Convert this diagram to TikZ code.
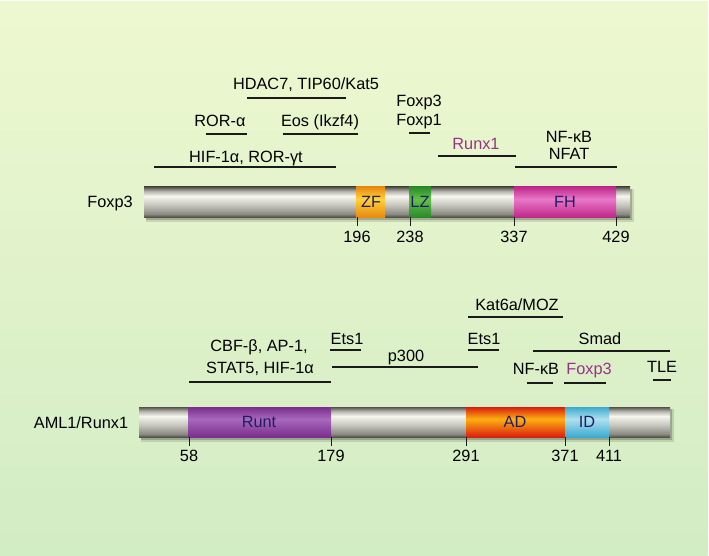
\documentclass[tikz,border=0pt]{standalone}
\usepackage{fontspec}
\setmainfont{Liberation Sans}
\definecolor{bgtop}{HTML}{EEF8D0}
\definecolor{bgbot}{HTML}{D2ECC4}
\definecolor{gbd}{HTML}{52524B}
\definecolor{gbm}{HTML}{8A8A82}
\definecolor{gbl}{HTML}{C6C6BE}
\definecolor{gbw}{HTML}{F6F6F0}
\definecolor{gbt}{HTML}{B4B4AC}
\definecolor{zfE}{HTML}{E88A10}
\definecolor{zfM}{HTML}{FFD23A}
\definecolor{lzE}{HTML}{2A8A2A}
\definecolor{lzM}{HTML}{62C048}
\definecolor{fhE}{HTML}{C0288A}
\definecolor{fhM}{HTML}{E878C8}
\definecolor{ruE}{HTML}{7A2E8E}
\definecolor{ruM}{HTML}{A868BC}
\definecolor{adE}{HTML}{D81E10}
\definecolor{adM}{HTML}{FFB010}
\definecolor{idE}{HTML}{3AAAD0}
\definecolor{idM}{HTML}{B0E0EE}
\definecolor{dtxt}{HTML}{1E1E66}
\definecolor{purp}{HTML}{993388}
\definecolor{lnc}{HTML}{1A1A1A}
\pgfdeclareverticalshading{graybar}{100bp}{color(0bp)=(gbd); color(25bp)=(gbd); color(30bp)=(gbm); color(45bp)=(gbl); color(60bp)=(gbw); color(68bp)=(gbt); color(75bp)=(gbd); color(100bp)=(gbd)}
\pgfdeclareverticalshading{zfsh}{100bp}{color(0bp)=(zfE); color(25bp)=(zfE); color(55bp)=(zfM); color(75bp)=(zfE); color(100bp)=(zfE)}
\pgfdeclareverticalshading{lzsh}{100bp}{color(0bp)=(lzE); color(25bp)=(lzE); color(55bp)=(lzM); color(75bp)=(lzE); color(100bp)=(lzE)}
\pgfdeclareverticalshading{fhsh}{100bp}{color(0bp)=(fhE); color(25bp)=(fhE); color(55bp)=(fhM); color(75bp)=(fhE); color(100bp)=(fhE)}
\pgfdeclareverticalshading{rush}{100bp}{color(0bp)=(ruE); color(25bp)=(ruE); color(55bp)=(ruM); color(75bp)=(ruE); color(100bp)=(ruE)}
\pgfdeclareverticalshading{adsh}{100bp}{color(0bp)=(adE); color(25bp)=(adE); color(55bp)=(adM); color(75bp)=(adE); color(100bp)=(adE)}
\pgfdeclareverticalshading{idsh}{100bp}{color(0bp)=(idE); color(25bp)=(idE); color(55bp)=(idM); color(75bp)=(idE); color(100bp)=(idE)}
\tikzset{
  lbl/.style={inner sep=0pt, text height=11.5pt, text depth=0pt, font=\fontsize{16.3}{19}\selectfont, text=black},
  plbl/.style={lbl, text=purp},
  dlbl/.style={lbl, text=dtxt},
  rng/.style={draw=lnc, line width=1.3pt},
  tick/.style={draw=lnc, line width=1pt},
  bar/.style={shading=graybar},
}
\begin{document}
\begin{tikzpicture}[x=1pt,y=-1pt]
\useasboundingbox (0,0) rectangle (709,556);
\fill[white] (0,0) rectangle (709,556);
\shade[top color=bgtop, bottom color=bgbot] (0,2) rectangle (707.5,556);

% ---------- Foxp3 ----------
\fill[black, opacity=.12] (146,189) rectangle (634,222);
\fill[black, opacity=.2] (146,189) rectangle (632,220);
\shade[bar] (144,187) rectangle (630,217);
\shade[shading=zfsh] (356,187) rectangle (385,217);
\shade[shading=lzsh] (409,187) rectangle (431,217);
\shade[shading=fhsh] (514,187) rectangle (616,217);
\node[dlbl] (zf) at (371,202) {ZF};
\node[dlbl] (lz) at (420,202) {LZ};
\node[dlbl] (fh) at (565,202) {FH};
\node[lbl] (foxp3) at (110,202) {Foxp3};

\draw[tick] (357,217) -- (357,226);
\draw[tick] (410,217) -- (410,226);
\draw[tick] (514,217) -- (514,226);
\draw[tick] (616,217) -- (616,226);
\node[lbl] (n196) at (357,237) {196};
\node[lbl] (n238) at (410,237) {238};
\node[lbl] (n337) at (514,237) {337};
\node[lbl] (n429) at (616,237) {429};

\node[lbl] (hdac) at (306,84) {HDAC7, TIP60/Kat5};
\draw[rng] (247,98) -- (346,98);
\node[lbl] (rora) at (220,121) {ROR-α};
\draw[rng] (206,134) -- (247,134);
\node[lbl] (eos) at (320,121) {Eos (Ikzf4)};
\draw[rng] (283,134) -- (358,134);
\node[lbl] (fx3) at (419,101) {Foxp3};
\node[lbl] (fx1) at (419,120) {Foxp1};
\draw[rng] (409,133) -- (430,133);
\node[lbl] (hif) at (246,157) {HIF-1α, ROR-γt};
\draw[rng] (154,167) -- (336,167);
\node[plbl] (runx) at (476,144) {Runx1};
\draw[rng] (438,156) -- (516,156);
\node[lbl] (nfkb1) at (569,137) {NF-κB};
\node[lbl] (nfat) at (569,154) {NFAT};
\draw[rng] (515,167) -- (617,167);

% ---------- AML1/Runx1 ----------
\fill[black, opacity=.12] (141,409) rectangle (674,442);
\fill[black, opacity=.2] (141,409) rectangle (672,440);
\shade[bar] (139,407) rectangle (670,437);
\shade[shading=rush] (188,407) rectangle (331,437);
\shade[shading=adsh] (466,407) rectangle (565,437);
\shade[shading=idsh] (565,407) rectangle (609,437);
\node[dlbl] (runt) at (259,422) {Runt};
\node[dlbl] (ad) at (515,422) {AD};
\node[dlbl] (id) at (587,422) {ID};
\node[lbl] (aml) at (81,423) {AML1/Runx1};

\draw[tick] (189,437) -- (189,446);
\draw[tick] (331,437) -- (331,446);
\draw[tick] (466,437) -- (466,446);
\draw[tick] (565,437) -- (565,446);
\draw[tick] (609,437) -- (609,446);
\node[lbl] (n58) at (189,456) {58};
\node[lbl] (n179) at (331,456) {179};
\node[lbl] (n291) at (466,456) {291};
\node[lbl] (n371) at (565,456) {371};
\node[lbl] (n411) at (609,456) {411};

\node[lbl] (cbf) at (259,346) {CBF-β, AP-1,};
\node[lbl] (stat) at (260,368) {STAT5, HIF-1α};
\draw[rng] (189,382) -- (331,382);
\node[lbl] (ets1a) at (347,339) {Ets1};
\draw[rng] (330,350) -- (361,350);
\node[lbl] (p300) at (406,356) {p300};
\draw[rng] (332,367) -- (478,367);
\node[lbl] (ets1b) at (484,339) {Ets1};
\draw[rng] (468,350) -- (499,350);
\node[lbl] (kat) at (517,305) {Kat6a/MOZ};
\draw[rng] (468,317) -- (563,317);
\node[lbl] (smad) at (600,339) {Smad};
\draw[rng] (533,351) -- (670,351);
\node[lbl] (nfkb2) at (536,369) {NF-κB};
\draw[rng] (527,383) -- (553,383);
\node[plbl] (fx3b) at (589,369) {Foxp3};
\draw[rng] (564,383) -- (606,383);
\node[lbl] (tle) at (662,367) {TLE};
\draw[rng] (653,380) -- (671,380);
\end{tikzpicture}
\end{document}
